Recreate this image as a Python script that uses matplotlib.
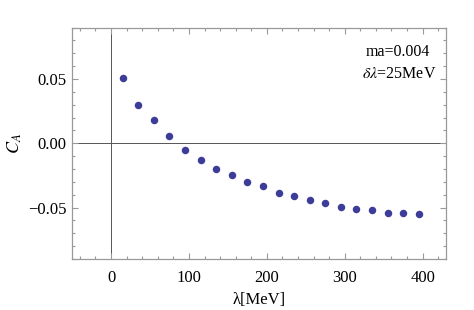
import numpy as np
import matplotlib.pyplot as plt
from matplotlib.ticker import MultipleLocator

# data
lam = [15, 35, 55, 75, 95, 115, 135, 155, 175, 195,
       215, 235, 255, 275, 295, 315, 335, 355, 375, 395]
ca = [0.0505, 0.0300, 0.0184, 0.0055, -0.0052, -0.0127, -0.0197, -0.0249, -0.0303, -0.0335,
      -0.0384, -0.0410, -0.0441, -0.0467, -0.0493, -0.0511, -0.0521, -0.0539, -0.0545, -0.0552]

plt.rcParams['font.family'] = ['Liberation Serif', 'DejaVu Serif']
plt.rcParams['mathtext.fontset'] = 'stix'

fig = plt.figure(figsize=(4.74, 3.10), dpi=100)
ax = fig.add_axes([0.152, 0.1645, 0.789, 0.7465])

ax.axhline(0, color='#555555', lw=0.7, zorder=1)
ax.axvline(0, color='#555555', lw=0.7, zorder=1)
ax.plot(lam, ca, 'o', color='#3d3d99', ms=5.4, mec='none', zorder=3)

ax.set_xlim(-50, 430)
ax.set_ylim(-0.09, 0.09)
ax.xaxis.set_major_locator(MultipleLocator(100))
ax.xaxis.set_minor_locator(MultipleLocator(20))
ax.yaxis.set_major_locator(MultipleLocator(0.05))
ax.yaxis.set_minor_locator(MultipleLocator(0.01))
ax.yaxis.set_major_formatter(lambda v, p: ('%.2f' % v).replace('-', '\u2212'))

for s in ax.spines.values():
    s.set_color('#999999')
    s.set_linewidth(0.9)
ax.tick_params(which='both', direction='in', top=True, right=True,
               color='#999999', labelsize=12, width=0.8)
ax.tick_params(which='major', length=4)
ax.tick_params(which='minor', length=2.2)
ax.tick_params(axis='x', which='major', pad=8)
ax.tick_params(axis='y', which='major', pad=4)

ax.set_xlabel('λ[MeV]', fontsize=12, labelpad=4)
ax.set_ylabel('$C_A$', fontsize=13, labelpad=3)

ax.text(368, 0.071, 'ma=0.004', ha='center', va='center', fontsize=11.5)
ax.text(370, 0.054, '$\\delta\\lambda$=25MeV', ha='center', va='center', fontsize=11.5)

fig.savefig('out.png', dpi=100)
